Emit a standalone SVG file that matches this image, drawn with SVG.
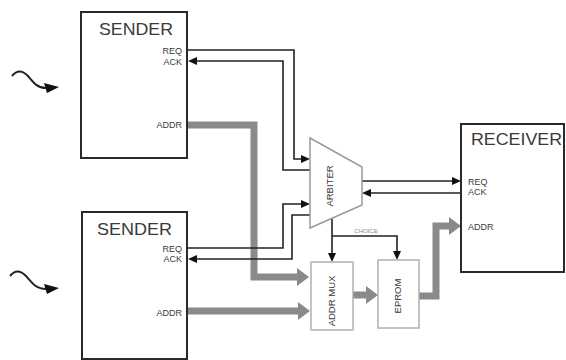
<svg xmlns="http://www.w3.org/2000/svg" width="566" height="360" viewBox="0 0 566 360">
<style>
text{font-family:"Liberation Sans",Arial,sans-serif;fill:#3a3a3a}
.title{font-size:17px}
.lbl{font-size:9px}
.rot{font-size:9.5px;text-anchor:middle}
.box{fill:#fff;stroke:#2a2a2a;stroke-width:2}
.lbox{fill:#fff;stroke:#b0b0b0;stroke-width:1.5}
.thin{fill:none;stroke:#222;stroke-width:1.6}
.bus{fill:none;stroke:#8a8a8a;stroke-width:7}
</style>
<defs>
<marker id="ah" markerUnits="userSpaceOnUse" markerWidth="10" markerHeight="8" refX="0" refY="4" orient="auto"><path d="M0,0 L9,4 L0,8 z" fill="#111"/></marker>
<marker id="bh" markerUnits="userSpaceOnUse" markerWidth="13" markerHeight="18" refX="0" refY="9" orient="auto"><path d="M0,0 L12,9 L0,18 z" fill="#8a8a8a"/></marker>
<marker id="wh" markerUnits="userSpaceOnUse" markerWidth="16" markerHeight="10" refX="2" refY="5" orient="auto"><path d="M0,0 L15,4 L3,10 z" fill="#111"/></marker>
</defs>
<rect width="566" height="360" fill="#fff"/>

<g id="connectors">
<path class="bus" d="M187,125 H254 V277 H297" marker-end="url(#bh)"/>
<path class="bus" d="M187,311 H298" marker-end="url(#bh)"/>
<path class="bus" d="M353,295 H366" marker-end="url(#bh)"/>
<path class="bus" d="M419,296 H436 V226 H449" marker-end="url(#bh)"/>
<path class="thin" d="M187,50 H294 V159 H301" marker-end="url(#ah)"/>
<path class="thin" d="M310,170 H283 V61 H197" marker-end="url(#ah)"/>
<path class="thin" d="M187,248 H283 V204 H301" marker-end="url(#ah)"/>
<path class="thin" d="M310,215 H292 V259 H197" marker-end="url(#ah)"/>
<path class="thin" d="M362,181 H452" marker-end="url(#ah)"/>
<path class="thin" d="M461,193 H371" marker-end="url(#ah)"/>
<path class="thin" d="M332,218 V253" marker-end="url(#ah)"/>
<path class="thin" d="M332,236 H397 V251" marker-end="url(#ah)"/>
<text x="366" y="233" style="font-size:6px;fill:#888" text-anchor="middle">CHOICE</text>
<path d="M12,76 C17,70 22,70 28,76 C33,82 37,88 46,88" fill="none" stroke="#222" stroke-width="2" marker-end="url(#wh)"/>
<path d="M10,276 C15,270 20,270 26,276 C32,283 36,289 46,289" fill="none" stroke="#222" stroke-width="2" marker-end="url(#wh)"/>
</g>

<g id="sender1">
<rect class="box" x="81" y="12" width="106" height="146"/>
<text class="title" x="99" y="35" textLength="74" lengthAdjust="spacingAndGlyphs">SENDER</text>
<text class="lbl" x="182" y="54" text-anchor="end">REQ</text>
<text class="lbl" x="182" y="65" text-anchor="end">ACK</text>
<text class="lbl" x="182" y="128" text-anchor="end">ADDR</text>
</g>

<g id="sender2">
<rect class="box" x="82" y="212" width="105" height="147"/>
<text class="title" x="97" y="235" textLength="75" lengthAdjust="spacingAndGlyphs">SENDER</text>
<text class="lbl" x="182" y="252" text-anchor="end">REQ</text>
<text class="lbl" x="182" y="262" text-anchor="end">ACK</text>
<text class="lbl" x="182" y="316" text-anchor="end">ADDR</text>
</g>

<g id="arbiter">
<polygon points="310,138 362,167 362,205 310,228" fill="#fff" stroke="#999" stroke-width="1.5"/>
<text class="rot" transform="translate(333,186) rotate(-90)">ARBITER</text>
</g>

<g id="receiver">
<rect class="box" x="461" y="124" width="103" height="148"/>
<text class="title" x="471" y="145" textLength="91" lengthAdjust="spacingAndGlyphs">RECEIVER</text>
<text class="lbl" x="468" y="185">REQ</text>
<text class="lbl" x="468" y="195">ACK</text>
<text class="lbl" x="468" y="230">ADDR</text>
</g>

<g id="addrmux">
<rect class="lbox" x="311" y="262" width="42" height="68"/>
<text class="rot" transform="translate(335,301) rotate(-90)">ADDR MUX</text>
</g>

<g id="eprom">
<rect class="lbox" x="378" y="260" width="41" height="68"/>
<text class="rot" transform="translate(401,296) rotate(-90)">EPROM</text>
</g>
</svg>
